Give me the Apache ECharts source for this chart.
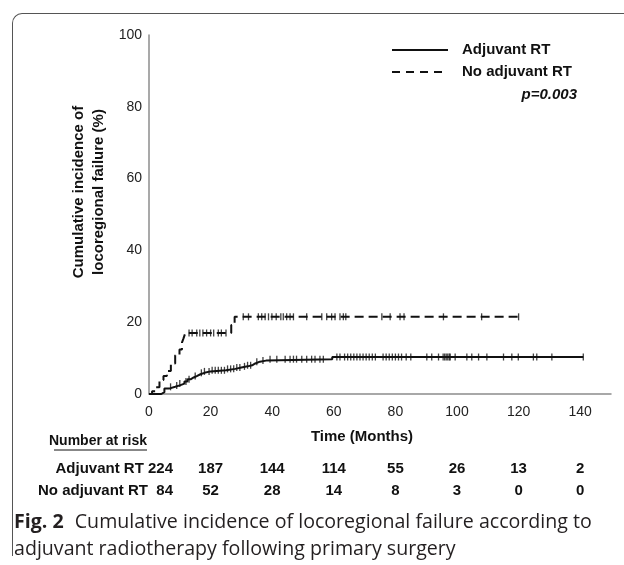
<!DOCTYPE html>
<html>
<head>
<meta charset="utf-8">
<script src="https://cdn.jsdelivr.net/npm/echarts@6/dist/echarts.min.js"></script>
<style>
  html, body { margin: 0; padding: 0; background: #fff; }
  #wrap { position: relative; width: 624px; height: 565px; overflow: hidden; }
  #chart { position: absolute; left: 0; top: 0; width: 624px; height: 565px; }
  #frame {
    position: absolute; left: 12px; top: 13px; width: 700px; height: 542px;
    border-top: 1px solid #555; border-left: 1px solid #555; border-top-left-radius: 10px;
    pointer-events: none;
  }
  #caption {
    position: absolute; left: 14px; top: 507px; width: 610px;
    font-family: "Open Sans", "Noto Sans", sans-serif; font-size: 19.6px; line-height: 27px; color: #231f20;
  }
  #caption b { font-weight: 700; margin-right: 6px; }
</style>
</head>
<body>
<div id="wrap">
  <div id="frame"></div>
  <div id="chart"></div>
  <div id="caption"><b>Fig. 2</b> Cumulative incidence of locoregional failure according to<br>adjuvant radiotherapy following primary surgery</div>
</div>
<script>
// step curves [month, cumulative incidence %]
const adjuvantCurve = [
  [0, 0], [4, 0.5], [5, 1.5], [6.5, 2.0], [8.5, 2.4], [10, 2.9], [11.5, 3.5], [12.5, 4.1],
  [13.5, 4.6], [14.5, 5.0], [15.5, 5.5], [16.7, 5.9], [18, 6.3], [20, 6.6], [25, 7.0],
  [28, 7.4], [30, 7.7], [32, 8.0], [33.5, 8.5], [34.5, 9.0], [36, 9.3], [38, 9.7],
  [59.5, 10.3], [141, 10.3]
];
const noAdjuvantCurve = [
  [0, 0], [1, 0.8], [2, 1.9], [3.4, 3.9], [4.7, 5.0], [5.8, 6.4], [7.1, 8.5], [8.5, 10.8],
  [9.9, 12.4], [10.7, 14.3], [11.2, 15.5], [11.8, 17.0], [26.7, 19.2], [27.8, 21.5], [120, 21.5]
];
// censored observations (months)
const adjuvantCensor = [
  7, 9, 10, 12, 13, 15, 17, 18, 19.5, 20.5, 21.5, 22.5, 23.5, 24.5, 25.5, 26.5, 27.5, 28.5, 29.5,
  31, 32, 33, 35, 37, 39.3, 41.5, 44.2, 45.8, 46.9, 47.9, 49.6, 51.2, 52.8, 53.9, 55.5, 56.6,
  61, 62, 63.5, 64.5, 65.5, 66.5, 67.5, 68.5, 69.5, 70.5, 71.5, 72.5, 73.5, 76, 77, 78, 79, 80,
  81, 82, 83.5, 85, 90.2, 91.8, 94, 95.5, 96, 96.5, 97, 97.5, 97.8, 99.4, 103.2, 104.8, 107,
  109.7, 115.1, 117.8, 119.9, 124.8, 125.9, 130.8, 141
];
const noAdjuvantCensor = [
  13, 14, 15.5, 16.5, 17.5, 18.7, 20, 21, 22.5, 23.5, 25, 30.6, 32.3, 35.5, 36.6, 37.7, 38.8,
  39.9, 41.3, 42.8, 43.6, 44.7, 45.8, 46.9, 51.2, 56.1, 57.7, 59.3, 60.4, 62, 63.1, 63.9, 75.6,
  78.3, 81.5, 82.8, 95.6, 108, 120
];
// number at risk
const riskTimes = [0, 20, 40, 60, 80, 100, 120, 140];
const adjuvantRisk = [224, 187, 144, 114, 55, 26, 13, 2];
const noAdjuvantRisk = [84, 52, 28, 14, 8, 3, 0, 0];
const groupNames = ['Adjuvant RT', 'No adjuvant RT'];

function valueAt(curve, t) {
  let v = curve[0][1];
  for (const p of curve) { if (p[0] <= t) v = p[1]; }
  return v;
}

const chart = echarts.init(document.getElementById('chart'));
const font = '"Liberation Sans", Arial, sans-serif';
const ink = '#111';

chart.setOption({
  animation: false,
  grid: { left: 149, right: 13, top: 35, bottom: 171 },
  xAxis: {
    type: 'value', min: 0, max: 150, interval: 20,
    axisLine: { lineStyle: { color: '#8c8c8c', width: 1.5 } },
    axisTick: { show: false },
    splitLine: { show: false },
    axisLabel: { showMaxLabel: false, margin: 11, fontSize: 14, color: '#222', fontFamily: font }
  },
  yAxis: {
    type: 'value', min: 0, max: 100, interval: 20,
    axisLine: { show: true, lineStyle: { color: '#8c8c8c', width: 1.5 } },
    axisTick: { show: false },
    splitLine: { show: false },
    axisLabel: { margin: 7, fontSize: 14, color: '#222', fontFamily: font }
  },
  series: [
    {
      name: groupNames[0], type: 'line', step: 'end', showSymbol: false,
      data: adjuvantCurve, lineStyle: { color: ink, width: 2 }
    },
    {
      name: groupNames[1], type: 'line', step: 'end', showSymbol: false,
      data: noAdjuvantCurve, lineStyle: { color: ink, width: 2, type: [9, 5] }
    },
    {
      type: 'scatter', symbol: 'rect', symbolSize: [1.3, 7],
      itemStyle: { color: ink },
      data: adjuvantCensor.map(t => [t, valueAt(adjuvantCurve, t)])
    },
    {
      type: 'scatter', symbol: 'rect', symbolSize: [1.3, 7],
      itemStyle: { color: ink },
      data: noAdjuvantCensor.map(t => [t, valueAt(noAdjuvantCurve, t)])
    }
  ]
});

// texts and legend placed from the axis scale
const px = t => chart.convertToPixel({ xAxisIndex: 0 }, t);
const bold = s => 'bold ' + s + 'px ' + font;
const graphics = [];

// y axis title (two lines)
graphics.push({
  type: 'text', x: 79, y: 192, rotation: Math.PI / 2,
  style: { text: 'Cumulative incidence of', font: bold(15), fill: ink, align: 'center', verticalAlign: 'middle' }
});
graphics.push({
  type: 'text', x: 99, y: 192, rotation: Math.PI / 2,
  style: { text: 'locoregional failure (%)', font: bold(15), fill: ink, align: 'center', verticalAlign: 'middle' }
});
// x axis title
graphics.push({
  type: 'text', x: 362, y: 437,
  style: { text: 'Time (Months)', font: bold(15), fill: ink, align: 'center', verticalAlign: 'middle' }
});
// legend
graphics.push({ type: 'line', shape: { x1: 392, y1: 50, x2: 448, y2: 50 }, style: { stroke: ink, lineWidth: 2 } });
graphics.push({ type: 'line', shape: { x1: 392, y1: 72, x2: 448, y2: 72 }, style: { stroke: ink, lineWidth: 2, lineDash: [8, 6] } });
graphics.push({ type: 'text', x: 462, y: 50, style: { text: groupNames[0], font: bold(15), fill: ink, verticalAlign: 'middle' } });
graphics.push({ type: 'text', x: 462, y: 72, style: { text: groupNames[1], font: bold(15), fill: ink, verticalAlign: 'middle' } });
graphics.push({ type: 'text', x: 577, y: 95, style: { text: 'p=0.003', font: 'italic ' + bold(15), fill: ink, align: 'right', verticalAlign: 'middle' } });

// number at risk table
graphics.push({ type: 'text', x: 147, y: 441, style: { text: 'Number at risk', font: bold(14), fill: ink, align: 'right', verticalAlign: 'middle' } });
graphics.push({ type: 'line', shape: { x1: 54, y1: 450, x2: 147, y2: 450 }, style: { stroke: ink, lineWidth: 1 } });
const rows = [[groupNames[0] + ' ', adjuvantRisk, 469], [groupNames[1] + '  ', noAdjuvantRisk, 491]];
rows.forEach(([name, risk, y]) => {
  graphics.push({ type: 'text', x: px(0) + 24, y, style: { text: name + risk[0], font: bold(15), fill: ink, align: 'right', verticalAlign: 'middle' } });
  for (let i = 1; i < riskTimes.length; i++) {
    graphics.push({ type: 'text', x: px(riskTimes[i]), y, style: { text: String(risk[i]), font: bold(15), fill: ink, align: 'center', verticalAlign: 'middle' } });
  }
});

chart.setOption({ graphic: graphics });
</script>
</body>
</html>
